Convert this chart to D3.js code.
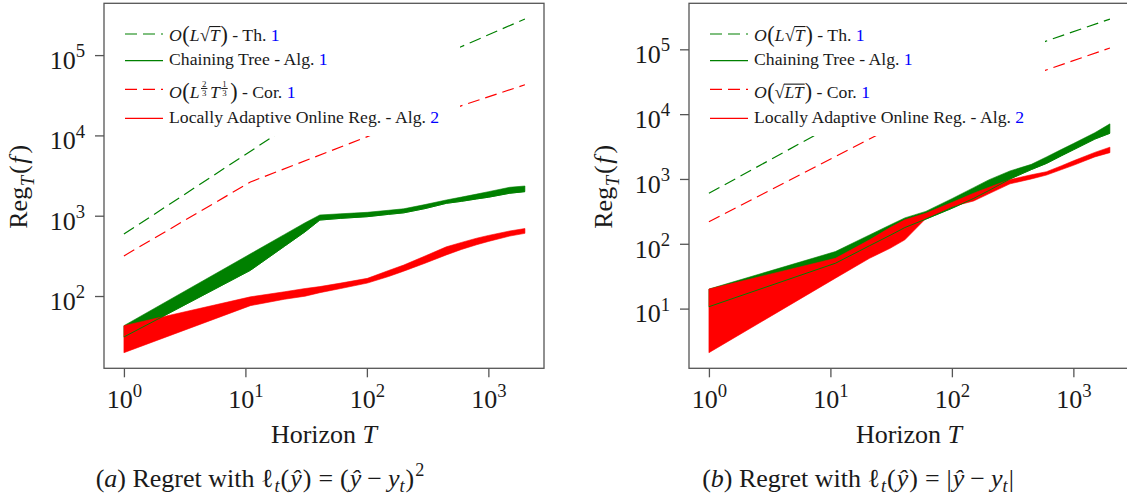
<!DOCTYPE html>
<html>
<head>
<meta charset="utf-8">
<script src="https://cdn.jsdelivr.net/npm/d3@7"></script>
<style>
body { margin: 0; background: #fff; }
svg { display: block; }
text { font-family: "Liberation Serif", "Times New Roman", serif; fill: #1a1a1a; white-space: pre; }
</style>
</head>
<body>
<svg id="chart" width="1127" height="499"></svg>
<script>
// horizons T at which the regret was recorded
var horizons = [1, 11, 21, 31, 41, 61, 101, 151, 201, 301, 451, 601, 801, 1001, 1501, 2000];

// (a) squared loss: spread (low/high) of the regret
var sqTreeHigh  = [42.7, 335, 585, 817, 1021, 1057, 1102, 1169, 1219, 1377, 1570, 1706, 1858, 1991, 2259, 2344];
var sqTreeLow   = [30.9, 209, 417, 631, 883, 927, 973, 1040, 1086, 1227, 1426, 1510, 1618, 1698, 1905, 1995];
var sqLocalHigh = [42.7, 97.7, 113, 124, 131, 145, 166, 208, 243, 315, 410, 465, 525, 568, 646, 692];
var sqLocalLow  = [19.7, 75.9, 91.2, 99.5, 110, 124, 145, 175, 204, 256, 325, 380, 435, 478, 558, 603];

// (b) absolute loss
var absTreeHigh  = [20, 75.9, 137, 195, 251, 316, 501, 735, 968, 1330, 1679, 2188, 2864, 3524, 5164, 7079];
var absTreeLow   = [10.7, 50.1, 93.3, 135, 178, 240, 355, 501, 661, 1000, 1396, 1738, 2291, 2818, 4121, 5070];
var absLocalHigh = [20, 59.7, 115, 178, 234, 295, 437, 603, 741, 977, 1161, 1294, 1603, 1905, 2570, 3090];
var absLocalLow  = [2.09, 29.5, 59.7, 85.1, 115, 245, 376, 457, 589, 841, 1000, 1148, 1396, 1622, 2188, 2547];

// theoretical bounds
var treeBoundT     = [1, 17, 589, 2000];
var sqTreeBound    = [590, 9770, 126000, 282000];
var absTreeBound   = [600, 11000, 132700, 293000];
var sqLocalBoundT  = [1, 11, 109, 589, 2000];
var sqLocalBound   = [316, 2630, 10100, 23200, 42700];
var absLocalBoundT = [1, 25, 570, 2000];
var absLocalBound  = [219, 4900, 46500, 104700];

var xTicks = [1, 10, 100, 1000];
var sqYTicks = [1e2, 1e3, 1e4, 1e5];
var absYTicks = [1e1, 1e2, 1e3, 1e4, 1e5];

var GREEN = "#008000", RED = "#ff0000", BLUE = "#0000ff", AXIS = "#555";
var W = 440, H = 365, TOP = 3.3;

var svg = d3.select("#chart");

// lays out a row of text pieces (italic, sub/superscripts, fractions, overlines)
function rich(g, x, y, segs, size) {
    var cx = x;
    segs.forEach(function(s) {
        if (s.frac) {
            var fs = size * 0.5;
            var n = g.append("text").attr("text-anchor", "start").attr("y", y - size * 0.63)
                .style("font-size", fs + "px").text(s.frac[0]);
            var d = g.append("text").attr("text-anchor", "start").attr("y", y - size * 0.11)
                .style("font-size", fs + "px").text(s.frac[1]);
            var nw = n.node().getComputedTextLength(), dw = d.node().getComputedTextLength();
            var w = Math.max(nw, dw) + 2;
            n.attr("x", cx + 1.5 + (w - nw) / 2);
            d.attr("x", cx + 1.5 + (w - dw) / 2);
            g.append("line").attr("x1", cx + 1.5).attr("x2", cx + 1.5 + w)
                .attr("y1", y - size * 0.555).attr("y2", y - size * 0.555)
                .attr("stroke", "#1a1a1a").attr("stroke-width", 1);
            cx += w + 4;
            return;
        }
        var fs = size * (s.scale || 1);
        var t = g.append("text")
            .attr("text-anchor", "start")
            .attr("x", cx)
            .attr("y", y + (s.dy || 0) * size)
            .style("font-size", fs + "px")
            .style("font-style", s.it ? "italic" : null)
            .style("fill", s.color || null)
            .text(s.t);
        var w = t.node().getComputedTextLength();
        if (s.over) {
            g.append("line").attr("x1", cx - 0.5).attr("x2", cx + w + 1)
                .attr("y1", y - size * 0.8).attr("y2", y - size * 0.8)
                .attr("stroke", "#1a1a1a").attr("stroke-width", 1.1);
        }
        cx += w + (s.pad || 0);
    });
    return cx - x;
}

function centered(parent, cx, y, segs, size) {
    var g = parent.append("g");
    var w = rich(g, 0, y, segs, size);
    g.attr("transform", "translate(" + (cx - w / 2) + ",0)");
    return g;
}

var labelSqrtL = [{t: "O", it: 1, pad: 0.5}, {t: "(", scale: 1.25, dy: 0.06}, {t: "L", it: 1, pad: 0.5},
    {t: "√"}, {t: "T", it: 1, over: 1, pad: 1}, {t: ")", scale: 1.25, dy: 0.06}, {t: " - Th. "}, {t: "1", color: BLUE}];
var labelTree = [{t: "Chaining Tree - Alg. "}, {t: "1", color: BLUE}];
var labelCube = [{t: "O", it: 1, pad: 0.5}, {t: "(", scale: 1.25, dy: 0.06}, {t: "L", it: 1}, {frac: ["2", "3"]},
    {t: "T", it: 1}, {frac: ["1", "3"]}, {t: ")", scale: 1.25, dy: 0.06}, {t: " - Cor. "}, {t: "1", color: BLUE}];
var labelSqrtLT = [{t: "O", it: 1, pad: 0.5}, {t: "(", scale: 1.25, dy: 0.06}, {t: "√"}, {t: "LT", it: 1, over: 1, pad: 1},
    {t: ")", scale: 1.25, dy: 0.06}, {t: " - Cor. "}, {t: "1", color: BLUE}];
var labelLocal = [{t: "Locally Adaptive Online Reg. - Alg. "}, {t: "2", color: BLUE}];

var captionA = [{t: "("}, {t: "a", it: 1}, {t: ") Regret with "}, {t: "ℓ", pad: 1}, {t: "t", it: 1, scale: 0.7, dy: 0.2, pad: 1},
    {t: "(", pad: 1}, {t: "ŷ", it: 1, pad: 1}, {t: ")", pad: 7}, {t: "=", pad: 7}, {t: "(", pad: 1}, {t: "ŷ", it: 1, pad: 6},
    {t: "−", pad: 6}, {t: "y", it: 1}, {t: "t", it: 1, scale: 0.7, dy: 0.2, pad: 1}, {t: ")", pad: 1},
    {t: "2", scale: 0.7, dy: -0.42}];
var captionB = [{t: "("}, {t: "b", it: 1}, {t: ") Regret with "}, {t: "ℓ", pad: 1}, {t: "t", it: 1, scale: 0.7, dy: 0.2, pad: 1},
    {t: "(", pad: 1}, {t: "ŷ", it: 1, pad: 1}, {t: ")", pad: 7}, {t: "=", pad: 7}, {t: "|", pad: 1}, {t: "ŷ", it: 1, pad: 6},
    {t: "−", pad: 6}, {t: "y", it: 1}, {t: "t", it: 1, scale: 0.7, dy: 0.2, pad: 1}, {t: "|"}];

function drawPanel(cfg) {
    var g = svg.append("g").attr("transform", "translate(" + cfg.left + "," + TOP + ")");
    var x = d3.scaleLog().domain([Math.pow(10, -0.164), Math.pow(10, 3.458)]).range([0, W]);
    var y = d3.scaleLog().domain(cfg.yDomain).range([H, 0]);

    g.append("clipPath").attr("id", "clip" + cfg.id)
        .append("rect").attr("width", W).attr("height", H);
    var plot = g.append("g").attr("clip-path", "url(#clip" + cfg.id + ")");

    var line = d3.line().x(d => x(d[0])).y(d => y(d[1]));
    plot.append("path").datum(d3.zip(treeBoundT, cfg.treeBound))
        .attr("d", line).attr("fill", "none").attr("stroke", GREEN)
        .attr("stroke-width", 1.2).attr("stroke-dasharray", "12,6");
    plot.append("path").datum(d3.zip(cfg.localBoundT, cfg.localBound))
        .attr("d", line).attr("fill", "none").attr("stroke", RED)
        .attr("stroke-width", 1.2).attr("stroke-dasharray", "12,6");

    var band = d3.area().x(d => x(d.t)).y0(d => y(d.lo)).y1(d => y(d.hi));
    var tree = horizons.map((t, i) => ({t: t, lo: cfg.treeLow[i], hi: cfg.treeHigh[i]}));
    var local = horizons.map((t, i) => ({t: t, lo: cfg.localLow[i], hi: cfg.localHigh[i]}));
    plot.append("path").datum(tree).attr("d", band)
        .attr("fill", GREEN).attr("stroke", GREEN).attr("stroke-width", 0.6);
    plot.append("path").datum(local).attr("d", band)
        .attr("fill", RED).attr("stroke", RED).attr("stroke-width", 0.6);
    plot.append("path").datum(horizons.map((t, i) => [t, cfg.treeLow[i]]))
        .attr("d", line).attr("fill", "none").attr("stroke", GREEN).attr("stroke-width", 1);

    // legend
    var lg = g.append("g");
    lg.append("rect").attr("x", 6).attr("y", 6).attr("width", 350).attr("height", 126.7).attr("fill", "#fff");
    var entries = [
        {color: GREEN, dash: true, label: cfg.labels[0], ly: 30.7, by: 37.4},
        {color: GREEN, dash: false, label: cfg.labels[1], ly: 57.4, by: 61.7},
        {color: RED, dash: true, label: cfg.labels[2], ly: 86, by: 95},
        {color: RED, dash: false, label: cfg.labels[3], ly: 115, by: 120}
    ];
    entries.forEach(function(e) {
        lg.append("line").attr("x1", 21).attr("x2", 59).attr("y1", e.ly).attr("y2", e.ly)
            .attr("stroke", e.color).attr("stroke-width", 1.2)
            .attr("stroke-dasharray", e.dash ? "12,6" : null);
        rich(lg, 65, e.by, e.label, 17.7);
    });

    // axes
    var xa = g.append("g").attr("transform", "translate(0," + H + ")")
        .call(d3.axisBottom(x).tickValues(xTicks).tickSize(9).tickFormat(""));
    var ya = g.append("g")
        .call(d3.axisLeft(y).tickValues(cfg.yTicks).tickSize(9).tickFormat(""));
    [xa, ya].forEach(function(a) {
        a.select(".domain").remove();
        a.selectAll("line").attr("stroke", AXIS).attr("stroke-width", 1.3);
        a.selectAll(".tick text").remove();
    });
    xa.selectAll(".tick").each(function(d) {
        centered(d3.select(this), 0, 40, [{t: "10"}, {t: String(Math.round(Math.log10(d))), scale: 0.72, dy: -0.45}], 26);
    });
    ya.selectAll(".tick").each(function(d) {
        var tg = d3.select(this).append("g");
        var w = rich(tg, 0, 13.3, [{t: "10"}, {t: String(Math.round(Math.log10(d))), scale: 0.72, dy: -0.45}], 26);
        tg.attr("transform", "translate(" + (-19 - w) + ",0)");
    });

    g.append("rect").attr("width", W).attr("height", H)
        .attr("fill", "none").attr("stroke", AXIS).attr("stroke-width", 1.3);

    // axis titles
    centered(g, W / 2, 440, [{t: "Horizon "}, {t: "T", it: 1}], 26);
    var yl = g.append("g").attr("transform", "translate(-77," + (H / 2 + 1) + ") rotate(-90)");
    centered(yl, 0, 0, [{t: "Reg", pad: 0.5}, {t: "T", it: 1, scale: 0.72, dy: 0.25, pad: 2},
        {t: "(", pad: 1.5}, {t: "f", it: 1, pad: 3}, {t: ")"}], 26);

    centered(g, W / 2 + cfg.captionShift, 483.4, cfg.caption, 26);
}

drawPanel({
    id: "a", left: 104, yDomain: [Math.pow(10, 1.10), Math.pow(10, 5.645)], yTicks: sqYTicks,
    treeBound: sqTreeBound, localBoundT: sqLocalBoundT, localBound: sqLocalBound,
    treeLow: sqTreeLow, treeHigh: sqTreeHigh, localLow: sqLocalLow, localHigh: sqLocalHigh,
    labels: [labelSqrtL, labelTree, labelCube, labelLocal], caption: captionA, captionShift: -64
});
drawPanel({
    id: "b", left: 689, yDomain: [Math.pow(10, 0.079), Math.pow(10, 5.71)], yTicks: absYTicks,
    treeBound: absTreeBound, localBoundT: absLocalBoundT, localBound: absLocalBound,
    treeLow: absTreeLow, treeHigh: absTreeHigh, localLow: absLocalLow, localHigh: absLocalHigh,
    labels: [labelSqrtL, labelTree, labelSqrtLT, labelLocal], caption: captionB, captionShift: -51
});
</script>
</body>
</html>
